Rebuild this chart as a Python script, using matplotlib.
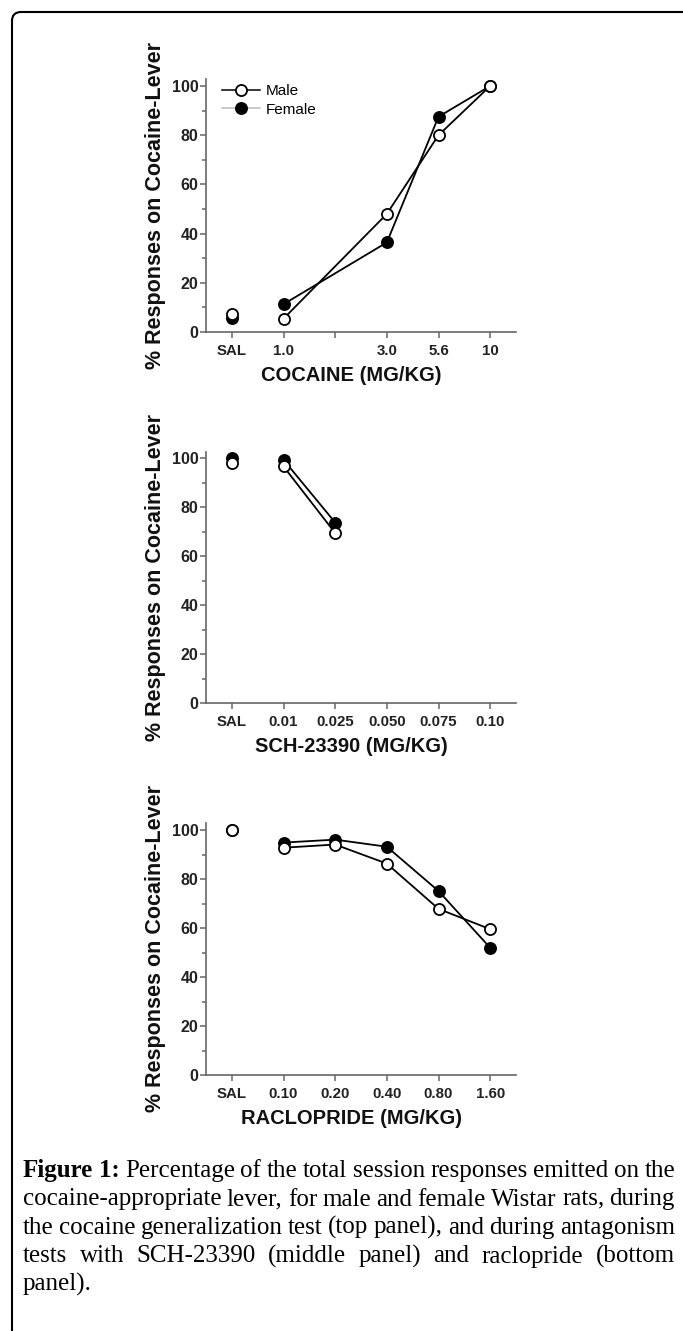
import matplotlib
matplotlib.use('Agg')
import matplotlib.pyplot as plt
import numpy as np
from matplotlib.lines import Line2D
from matplotlib.patches import FancyBboxPatch
from matplotlib.transforms import IdentityTransform

W, H = 683, 1331
nan = np.nan

# doses (first entry is saline, drawn unconnected)
cocaine_doses = ['SAL', '1.0', '', '3.0', '5.6', '10']
cocaine_male = [7.5, 5.4, nan, 48.0, 80.0, 100.0]
cocaine_female = [5.8, 11.3, nan, 36.4, 87.5, 100.0]

sch_doses = ['SAL', '0.01', '0.025', '0.050', '0.075', '0.10']
sch_male = [98.0, 96.6, 69.4, nan, nan, nan]
sch_female = [100.0, 99.3, 73.7, nan, nan, nan]

raclo_doses = ['SAL', '0.10', '0.20', '0.40', '0.80', '1.60']
raclo_male = [100.0, 92.9, 94.2, 86.4, 67.9, 59.6]
raclo_female = [100.0, 95.0, 96.2, 93.3, 75.2, 52.0]

xlabels = ['COCAINE (MG/KG)', 'SCH-23390 (MG/KG)', 'RACLOPRIDE (MG/KG)']
ylabel = '% Responses on Cocaine-Lever'
series_names = ['Male', 'Female']

caption_lines = [
    [('Figure 1:', 'bold'), ('Percentage of the total session responses emitted on the', 'normal')],
    [('cocaine-appropriate lever, for male and female Wistar rats, during', 'normal')],
    [('the cocaine generalization test (top panel), and during antagonism', 'normal')],
    [('tests with SCH-23390 (middle panel) and raclopride (bottom', 'normal')],
    [('panel).', 'normal')],
]

plt.rcParams['font.family'] = 'Liberation Sans'

fig = plt.figure(figsize=(W / 100, H / 100), dpi=100)
fig.patch.set_facecolor('white')


def px_axes(left, top, right, bottom):
    return fig.add_axes([left / W, 1 - bottom / H, (right - left) / W, (bottom - top) / H])


def draw_panel(ax, doses, male, female, xlabel, ytop):
    # female first so the open male circles sit on top
    for vals, face in ((female, 'black'), (male, 'white')):
        style = dict(marker='o', ms=8, mfc=face, mec='black', mew=1.3,
                     color='black', lw=1.3, zorder=3)
        ax.plot([0], [vals[0]], ls='none', **style)
        xs = [i for i, v in enumerate(vals) if i > 0 and not np.isnan(v)]
        ys = [vals[i] for i in xs]
        ax.plot(xs, ys, ls='-', **style)
    ax.set_xlim(-0.5, 5.5)
    ax.set_ylim(0, ytop)
    ax.set_xticks(range(len(doses)))
    ax.set_xticklabels(doses)
    ax.set_yticks(range(0, 101, 20))
    ax.set_yticks(range(10, 100, 20), minor=True)
    for s in ('top', 'right'):
        ax.spines[s].set_visible(False)
    for s in ('left', 'bottom'):
        ax.spines[s].set_color('#666666')
        ax.spines[s].set_linewidth(1.2)
    ax.tick_params(axis='both', which='both', direction='out', color='#666666', width=1.1)
    ax.tick_params(axis='y', which='major', length=4, pad=1.5)
    ax.tick_params(axis='y', which='minor', length=3)
    ax.tick_params(axis='x', which='major', length=4, pad=5)
    for lab in ax.get_xticklabels():
        lab.set_fontweight('bold')
        lab.set_fontsize(10.8)
        lab.set_color('#222222')
    for lab in ax.get_yticklabels():
        lab.set_fontweight('bold')
        lab.set_fontsize(11.5)
        lab.set_color('#222222')
    ax.set_xlabel(xlabel, fontsize=14.5, fontweight='bold', color='#111111')
    ax.xaxis.set_label_coords(0.468, -0.135)
    ax.set_ylabel(ylabel, fontsize=15.5, fontweight='bold', color='#111111')
    ax.yaxis.set_label_coords(-0.13, 0.5)


ax1 = px_axes(206, 78.6, 516, 332)
draw_panel(ax1, cocaine_doses, cocaine_male, cocaine_female, xlabels[0], 103)
ax2 = px_axes(206, 452, 516, 703)
draw_panel(ax2, sch_doses, sch_male, sch_female, xlabels[1], 102.5)
ax3 = px_axes(206, 823, 516, 1075)
draw_panel(ax3, raclo_doses, raclo_male, raclo_female, xlabels[2], 103)

handles = [
    Line2D([], [], color='black', lw=1.1, marker='o', ms=8, mfc='white', mec='black', mew=1.3),
    Line2D([], [], color='#bbbbbb', lw=1.1, marker='o', ms=8, mfc='black', mec='black', mew=1.3),
]
ax1.legend(handles, series_names, loc='upper left', bbox_to_anchor=(0.05, 0.978),
           frameon=False, fontsize=11, handlelength=2.5, handletextpad=0.4,
           labelspacing=0.3, borderpad=0, borderaxespad=0)

# outer rounded frame, open to the right and bottom edges
frame = FancyBboxPatch((12, -60), 700, H - 12 + 60, boxstyle='round,pad=0,rounding_size=9',
                       transform=IdentityTransform(), fill=False, ec='black', lw=1.5)
fig.add_artist(frame)

# justified caption
fig.canvas.draw()
renderer = fig.canvas.get_renderer()
left, right = 23, 675
baselines = [1177, 1205.5, 1234, 1262.5, 1291]
cap_font = dict(family='Liberation Serif', size=18, color='black')


def word_list(line):
    out = []
    for chunk, weight in line:
        for w in chunk.split(' '):
            out.append((w, weight))
    return out


t_a = fig.text(0, 0, 'a a', **cap_font)
t_b = fig.text(0, 0, 'aa', **cap_font)
space_w = t_a.get_window_extent(renderer).width - t_b.get_window_extent(renderer).width
t_a.remove()
t_b.remove()

for n, line in enumerate(caption_lines):
    words = word_list(line)
    texts = []
    widths = []
    for w, weight in words:
        t = fig.text(0, 1 - baselines[n] / H, w, fontweight=weight, va='baseline', **cap_font)
        texts.append(t)
        widths.append(t.get_window_extent(renderer).width)
    if n < len(caption_lines) - 1 and len(words) > 1:
        gap = (right - left - sum(widths)) / (len(words) - 1)
    else:
        gap = space_w
    x = left
    for t, wd in zip(texts, widths):
        t.set_x(x / W)
        x += wd + gap

fig.savefig('out.png', dpi=100)
